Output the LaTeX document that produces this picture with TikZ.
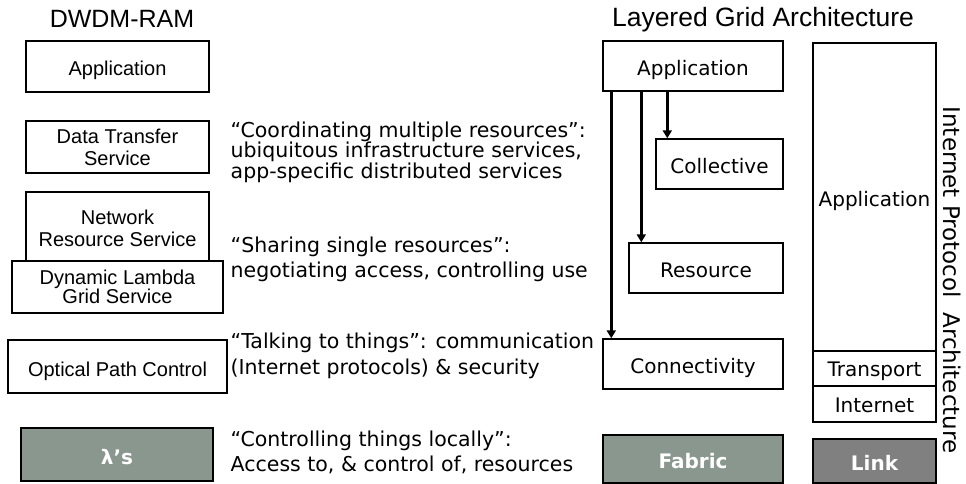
\documentclass[tikz,border=0pt]{standalone}
\usepackage{fontspec}
\setmainfont{Liberation Sans}
\newfontfamily\verd{DejaVu Sans}
\usetikzlibrary{arrows.meta}
\definecolor{fabricgray}{RGB}{137,151,143}
\definecolor{linkgray}{RGB}{128,128,128}

\begin{document}
\begin{tikzpicture}[x=1pt,y=-1pt,
                    line width=1.4pt,
                    every node/.style={inner sep=0pt}]
    \tikzstyle{lbox}=[draw,fill=white,align=center,font=\fontsize{20}{22}\selectfont]
    \tikzstyle{rbox}=[lbox,font=\verd\fontsize{20}{22}\selectfont]
    \tikzstyle{base}=[draw,fill=fabricgray,text=white,font=\verd\bfseries\fontsize{20}{22}\selectfont]
    \tikzstyle{oneline}=[text height=19pt,text depth=0pt]
    \tikzstyle{thinline}=[text height=16pt,text depth=0pt]
    \tikzstyle{note}=[anchor=west,align=left]
    \tikzstyle{arr}=[-{Triangle[length=8pt,width=9pt]},line width=2.4pt]

    \useasboundingbox (0,0) rectangle (966,484);

    % DWDM-RAM stack
    \node[font=\fontsize{25}{28}\selectfont] (ltitle) at (122,19) {DWDM-RAM};
    \node[lbox,oneline,minimum width=183,minimum height=51] (lapp) at (117.5,66.5) {Application};
    \node[lbox,minimum width=183,minimum height=52] (ldts) at (117.5,147) {Data Transfer\\Service};
    \node[lbox,minimum width=183,minimum height=72] (lnrs) at (117.5,228) {Network\\Resource Service};
    \node[lbox,minimum width=211,minimum height=52,font=\fontsize{20}{18}\selectfont] (dlgs) at (117.5,287) {Dynamic Lambda\\Grid Service};
    \node[lbox,oneline,minimum width=219,minimum height=53] (opc) at (117.5,366.5) {Optical Path Control};
    \node[base,oneline,minimum width=192,minimum height=53] (lambda) at (117,454.5) {λ’s};

    % layer descriptions
    \node[note,font=\verd\fontsize{20.5}{20.5}\selectfont] (coord) at (230,152)
        {“Coordinating multiple resources”:\\ubiquitous infrastructure services,\\app-specific distributed services};
    \node[note,font=\verd\fontsize{20.5}{25}\selectfont] (share) at (230,259)
        {“Sharing single resources”:\\negotiating access, controlling use};
    \node[note,font=\verd\fontsize{20.5}{26}\selectfont] (talk) at (230,355.5)
        {“Talking to things”: communication\\(Internet protocols) \& security};
    \node[note,font=\verd\fontsize{20.5}{25}\selectfont] (local) at (230,452)
        {“Controlling things locally”:\\Access to, \& control of, resources};

    % layered grid
    \node[font=\fontsize{26.5}{28}\selectfont] (rtitle) at (763,20) {Layered Grid Architecture};
    \node[rbox,oneline,minimum width=180,minimum height=50] (rapp) at (693,66) {Application};
    \node[rbox,oneline,minimum width=127,minimum height=50] (coll) at (719.5,164) {Collective};
    \node[rbox,oneline,minimum width=154,minimum height=50] (res) at (706,268) {Resource};
    \node[rbox,oneline,minimum width=180,minimum height=50] (conn) at (693,364) {Connectivity};
    \node[base,oneline,minimum width=180,minimum height=48] (fabric) at (693,459) {Fabric};

    \draw[arr] ([xshift=9pt]rapp.south west) -- ([xshift=9pt]conn.north west);
    \draw[arr] ([xshift=39pt]rapp.south west) -- ([xshift=13pt]res.north west);
    \draw[arr] ([xshift=65pt]rapp.south west) -- ([xshift=12pt]coll.north west);

    % internet protocols
    \node[rbox,oneline,minimum width=123,minimum height=308] (ipapp) at (874.5,197) {Application};
    \node[rbox,thinline,minimum width=123,minimum height=35] (iptr) at (874.5,368.5) {Transport};
    \node[rbox,thinline,minimum width=123,minimum height=36] (ipnet) at (874.5,404) {Internet};
    \node[base,oneline,fill=linkgray,minimum width=123,minimum height=44] (link) at (874.5,461) {Link};
    \node[rotate=-90,font=\verd\fontsize{23}{25}\selectfont] (iptitle) at (952,280) {Internet Protocol\ \ Architecture};

\end{tikzpicture}
\end{document}
